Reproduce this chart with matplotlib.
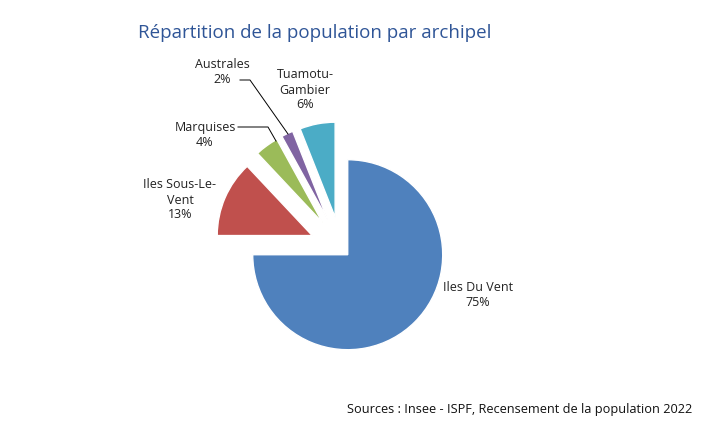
import matplotlib
matplotlib.use("Agg")
import matplotlib.pyplot as plt

plt.rcParams['font.family'] = ['Open Sans', 'DejaVu Sans']

labels = ["Iles Du Vent", "Iles Sous-Le-\nVent", "Marquises", "Australes", "Tuamotu-\nGambier"]
values = [75, 13, 4, 2, 6]
colors = ["#4F81BD", "#C0504D", "#9BBB59", "#8064A2", "#4BACC6"]
explode = [0.1, 0.33, 0.33, 0.33, 0.33]

fig = plt.figure(figsize=(7.11, 4.24), dpi=100)
ax = fig.add_axes([0, 0, 1, 1])
s = 95.0
cx, cy = 341, 248

ax.pie(values, colors=colors, explode=explode, startangle=90, counterclock=False,
       wedgeprops=dict(edgecolor="white", linewidth=1))
ax.set_xlim(-cx / s, (711 - cx) / s)
ax.set_ylim(-(424 - cy) / s, cy / s)
ax.set_aspect("equal")
ax.axis("off")

def px(x, y):
    return ((x - cx) / s, (cy - y) / s)

kw = dict(ha="center", va="center", fontsize=9, color="#222222", linespacing=1.2)
pos = [(478, 295), (180, 200), (205, 135), (222, 72), (305, 90)]
for lab, v, p in zip(labels, values, pos):
    ax.text(*px(*p), f"{lab}\n{v}%", **kw)

# leader lines
ax.plot(*zip(px(238, 127), px(268, 127), px(276, 141)), color="black", lw=0.7)
ax.plot(*zip(px(240, 80), px(250, 80), px(288, 134)), color="black", lw=0.7)

ax.text(*px(315, 33), "Répartition de la population par archipel", ha="center", va="center",
        fontsize=13.5, color="#2F5597")
ax.text(*px(692, 410), "Sources : Insee - ISPF, Recensement de la population 2022",
        ha="right", va="center", fontsize=9.2, color="#111111")

fig.savefig("out.png", dpi=100)
